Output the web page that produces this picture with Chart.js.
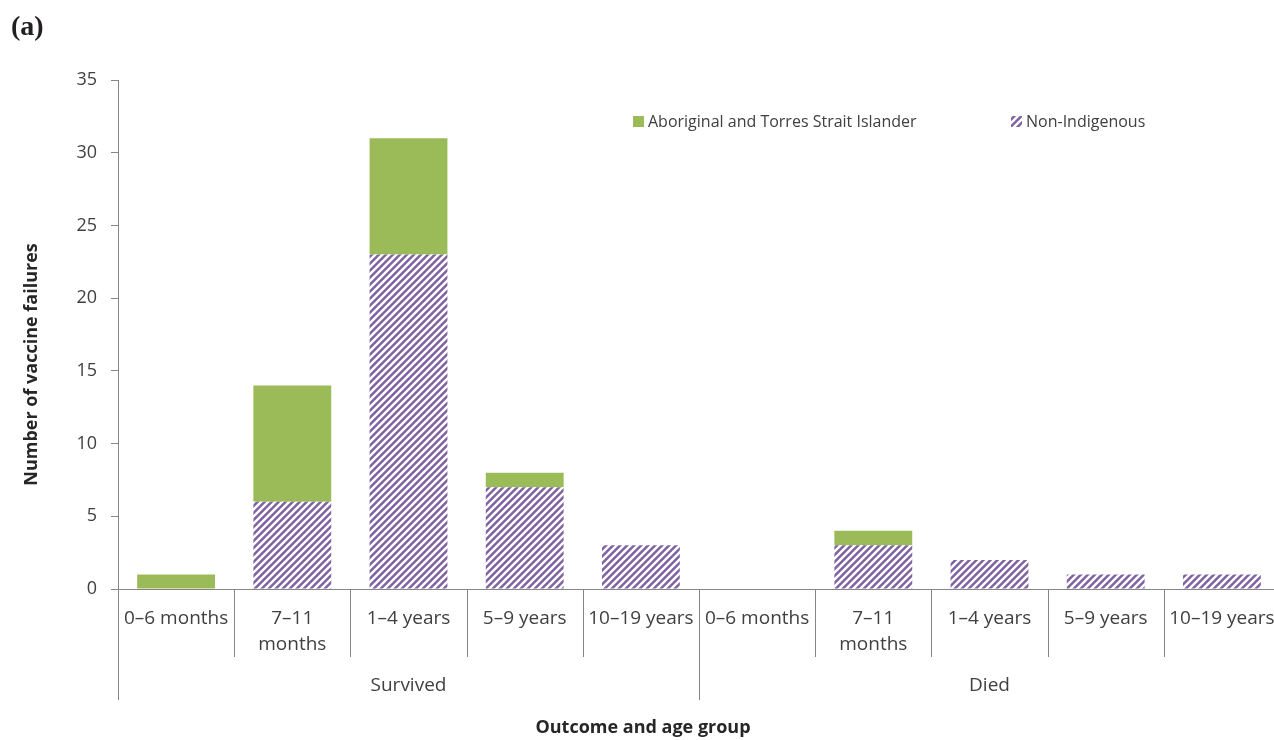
<!DOCTYPE html>
<html>
<head>
<meta charset="utf-8">
<script src="https://cdn.jsdelivr.net/npm/chart.js@4"></script>
<style>
  html, body { margin: 0; padding: 0; background: #fff; overflow: hidden; }
  #wrap { position: relative; width: 1280px; height: 740px; }
  #panel { position: absolute; left: 11px; top: 10px; font: bold 28px "Liberation Serif", serif; color: #231f20; }
</style>
</head>
<body>
<div id="wrap">
  <canvas id="chart" width="1280" height="740"></canvas>
  <div id="panel">(a)</div>
</div>
<script>
// data
const outcomes = ['Survived', 'Died'];
const ageGroups = ['0–6 months', ['7–11', 'months'], '1–4 years', '5–9 years', '10–19 years'];
const aboriginal = [1, 8, 8, 1, 0, 0, 1, 0, 0, 0];
const nonIndigenous = [0, 6, 23, 7, 3, 0, 3, 2, 1, 1];
const yMax = 35;
const yStep = 5;
const xTitle = 'Outcome and age group';
const yTitle = 'Number of vaccine failures';

const green = '#9BBB59';
const purple = '#8064A2';
const axisGrey = '#868686';
const font = '"Open Sans", "Noto Sans", sans-serif';

// every outcome gets the same age groups
const labels = [];
outcomes.forEach(() => ageGroups.forEach(a => labels.push(a)));

// white diagonal stripes on purple
function makeHatch() {
    const c = document.createElement('canvas');
    c.width = 7;
    c.height = 7;
    const g = c.getContext('2d');
    g.fillStyle = purple;
    g.fillRect(0, 0, 7, 7);
    g.strokeStyle = '#ffffff';
    g.lineWidth = 2.4;
    g.beginPath();
    g.moveTo(-1, 8); g.lineTo(8, -1);
    g.moveTo(-2, 2); g.lineTo(2, -2);
    g.moveTo(5, 9); g.lineTo(9, 5);
    g.stroke();
    return g.createPattern(c, 'repeat');
}
const hatch = makeHatch();

// separators under the x axis, outcome labels, axis titles and the legend
const extras = {
    id: 'extras',
    afterDraw(chart) {
        const ctx = chart.ctx;
        const x = chart.scales.x;
        const y = chart.scales.y;
        const n = labels.length;
        const step = (x.right - x.left) / n;
        const base = x.top;
        ctx.save();
        ctx.strokeStyle = axisGrey;
        ctx.lineWidth = 1;
        for (let i = 0; i <= n; i++) {
            const px = Math.round(i < n ? x.getPixelForValue(i) - step / 2 : x.getPixelForValue(n - 1) + step / 2) + 0.5;
            const long = i % ageGroups.length === 0;
            ctx.beginPath();
            ctx.moveTo(px, base);
            ctx.lineTo(px, long ? base + 111 : base + 68);
            ctx.stroke();
        }
        ctx.fillStyle = '#404040';
        ctx.font = '19px ' + font;
        ctx.textAlign = 'center';
        ctx.textBaseline = 'middle';
        outcomes.forEach((o, k) => {
            const a = x.getPixelForValue(k * ageGroups.length);
            const b = x.getPixelForValue((k + 1) * ageGroups.length - 1);
            ctx.fillText(o, (a + b) / 2, base + 97);
        });

        // axis titles
        ctx.fillStyle = '#262626';
        ctx.font = 'bold 18px ' + font;
        ctx.fillText(xTitle, 643, 728);
        ctx.save();
        ctx.translate(32, (y.top + y.bottom) / 2 + 30);
        ctx.rotate(-Math.PI / 2);
        ctx.fillText(yTitle, 0, 0);
        ctx.restore();

        // legend
        const items = [
            { text: chart.data.datasets[1].label, fill: green, x: 633 },
            { text: chart.data.datasets[0].label, fill: hatch, x: 1011 }
        ];
        ctx.font = '16px ' + font;
        ctx.textAlign = 'left';
        items.forEach(it => {
            ctx.fillStyle = it.fill;
            ctx.fillRect(it.x, 116, 11, 11);
            ctx.fillStyle = '#404040';
            ctx.fillText(it.text, it.x + 15, 122);
        });
        ctx.restore();
    }
};

new Chart(document.getElementById('chart'), {
    type: 'bar',
    data: {
        labels: labels,
        datasets: [{
            label: 'Non-Indigenous',
            data: nonIndigenous,
            backgroundColor: hatch,
            borderWidth: 0,
            barPercentage: 0.67,
            categoryPercentage: 1
        }, {
            label: 'Aboriginal and Torres Strait Islander',
            data: aboriginal,
            backgroundColor: green,
            borderWidth: 0,
            barPercentage: 0.67,
            categoryPercentage: 1
        }]
    },
    options: {
        responsive: false,
        animation: false,
        devicePixelRatio: 1,
        layout: { padding: { top: 80, right: 0, left: 0, bottom: 0 } },
        plugins: { legend: { display: false }, tooltip: { enabled: false } },
        scales: {
            x: {
                stacked: true,
                offset: true,
                grid: { display: false, drawTicks: true, tickLength: 17 },
                border: { display: true, color: axisGrey, width: 1 },
                ticks: {
                    color: '#404040',
                    font: { family: font, size: 19, lineHeight: 1.37 },
                    padding: 0,
                    maxRotation: 0,
                    autoSkip: false
                },
                afterFit(s) { s.height = 151; }
            },
            y: {
                stacked: true,
                min: 0,
                max: yMax,
                ticks: {
                    stepSize: yStep,
                    color: '#404040',
                    font: { family: font, size: 18 },
                    padding: 14
                },
                grid: { drawOnChartArea: false, drawTicks: true, tickLength: 7, color: axisGrey },
                border: { display: true, color: axisGrey, width: 1 },
                afterFit(s) { s.width = 118; }
            }
        }
    },
    plugins: [extras]
});
</script>
</body>
</html>
